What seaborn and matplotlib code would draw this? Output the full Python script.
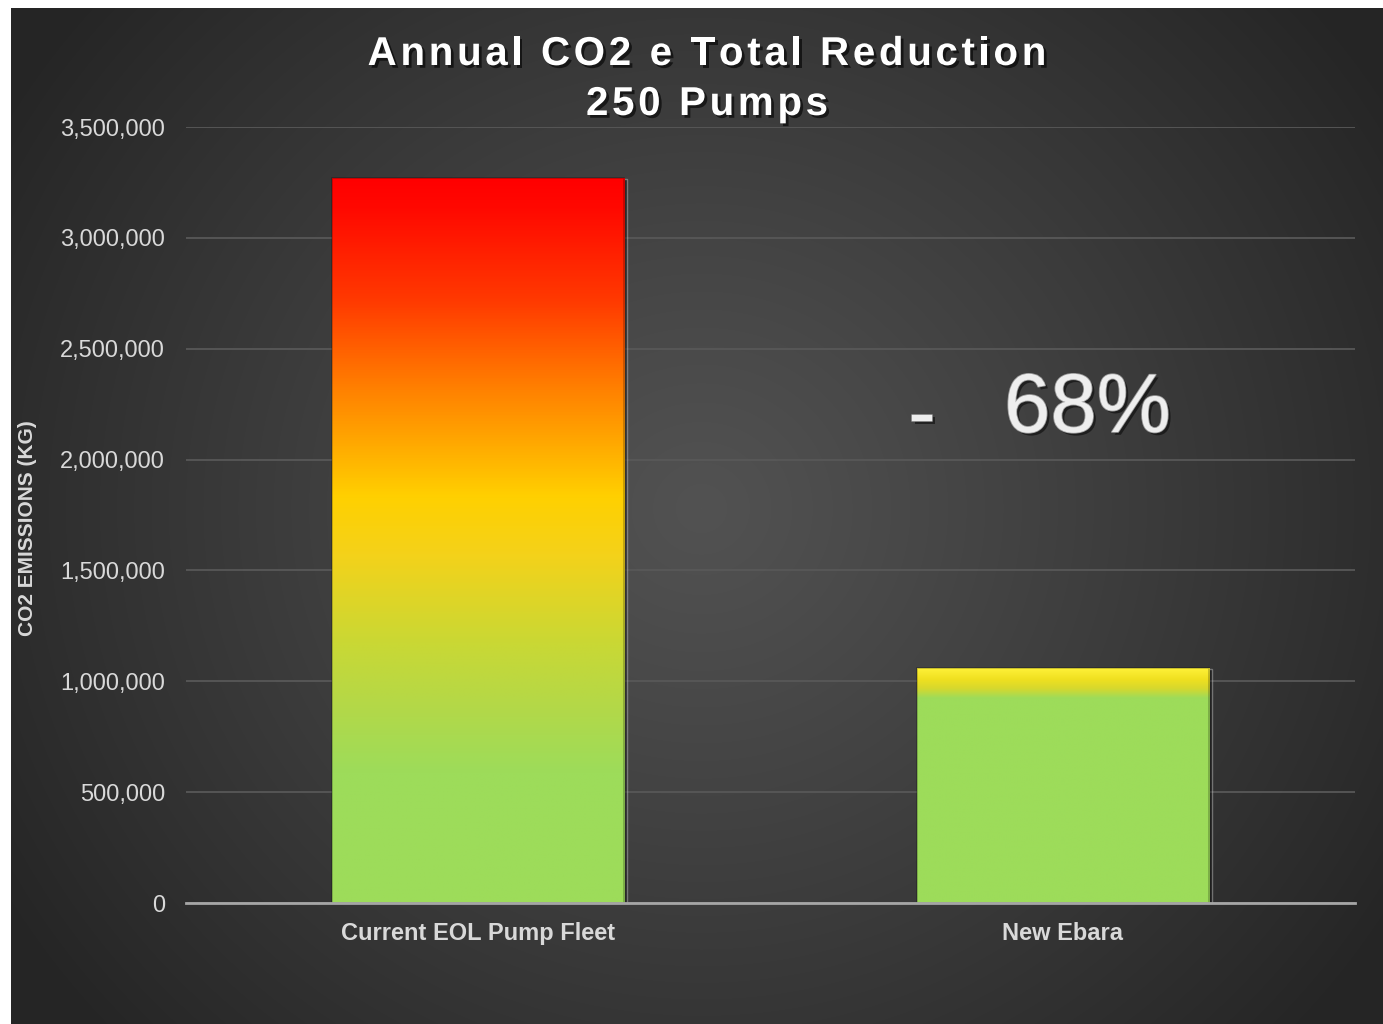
import numpy as np
import matplotlib
matplotlib.use("Agg")
import matplotlib.pyplot as plt
import seaborn as sns
from matplotlib.colors import LinearSegmentedColormap
from matplotlib import patheffects as pe
from matplotlib.patches import Rectangle
import matplotlib.transforms as mtransforms

# ---- data ----
categories = ["Current EOL Pump Fleet", "New Ebara"]
emissions = [3270000, 1060000]
yticks = [0, 500000, 1000000, 1500000, 2000000, 2500000, 3000000, 3500000]
title_line1 = "Annual CO2 e Total Reduction"
title_line2 = "250 Pumps"
ylabel = "CO2 EMISSIONS (KG)"
reduction_sign = "-"
reduction_text = "68%"

# gradient stops (fraction from bar top, colour)
bar_stops = [
    [(0.0, "#ff0000"), (0.04, "#ff0800"), (0.17, "#ff3a00"), (0.29, "#ff8000"),
     (0.44, "#ffd000"), (0.52, "#f4d21a"), (0.64, "#cad834"), (0.72, "#b6d846"),
     (0.82, "#9ddc5a"), (1.0, "#9ddc5a")],
    [(0.0, "#fff23a"), (0.05, "#f0e020"), (0.09, "#d6d82e"), (0.13, "#9ddc5a"), (1.0, "#9ddc5a")],
]

sns.set_theme(style="dark")
plt.rcParams["font.family"] = ["Liberation Sans", "DejaVu Sans"]

W, H = 1383, 1024
fig = plt.figure(figsize=(W / 100, H / 100), dpi=100)
fig.patch.set_facecolor("white")

# ---- radial dark background ----
bg = fig.add_axes([11 / W, 0, 1 - 11 / W, 1016 / H], zorder=-10)
bw, bh = W - 11, 1016
yy, xx = np.mgrid[0:bh, 0:bw]
cx, cy = 690, 500
r = np.sqrt((xx - cx) ** 2 + ((yy - cy) * 1.05) ** 2) / 820.0
r = np.clip(r, 0, 1)
c_in = np.array([0x52, 0x52, 0x52]) / 255
c_out = np.array([0x25, 0x25, 0x25]) / 255
t = r ** 1.1
img = c_in[None, None, :] * (1 - t[..., None]) + c_out[None, None, :] * t[..., None]
bg.imshow(img, aspect="auto", extent=(0, 1, 0, 1), origin="upper")
bg.set_axis_off()

# ---- main axes ----
ax = fig.add_axes([186 / W, 1 - 903 / H, (1355 - 186) / W, (903 - 127) / H])
ax.set_facecolor("none")
sns.barplot(x=categories, y=emissions, ax=ax, width=0.5, color="#9ddc5a",
            saturation=1, edgecolor="none", zorder=3)
ax.set_xlim(-0.5, 1.5)
ax.set_ylim(0, 3500000)
ax.set_yticks(yticks)
ax.set_yticklabels([f"{v:,}" for v in yticks])
ax.set_axisbelow(True)
ax.grid(False)
ax.yaxis.grid(True, color="#585858", linewidth=1.3)
ax.xaxis.grid(False)
for s in ["top", "right", "left"]:
    ax.spines[s].set_visible(False)
ax.spines["bottom"].set_color("#a6a6a6")
ax.spines["bottom"].set_linewidth(2.0)
ax.spines["bottom"].set_zorder(5)
ax.tick_params(axis="y", length=0, pad=15, labelsize=17, labelcolor="#d9d9d9")
ax.tick_params(axis="x", length=0, pad=13.5, labelsize=17, labelcolor="#d9d9d9")
for lbl in ax.get_xticklabels():
    lbl.set_fontweight("bold")
ax.set_xlabel("")
ax.set_ylabel(ylabel, fontsize=15, fontweight="bold", color="#d9d9d9")
ax.yaxis.set_label_coords((37 - 186) / (1355 - 186), (903 - 528) / (903 - 127))

# gradient fills clipped to bars
for patch, stops in zip(ax.patches, bar_stops):
    x0, y0 = patch.get_x(), patch.get_y()
    w, h = patch.get_width(), patch.get_height()
    shadow = Rectangle((x0, y0), w, h, facecolor="black", alpha=0.35, zorder=2,
                       transform=ax.transData + mtransforms.ScaledTranslation(3 / 100, -1 / 100, fig.dpi_scale_trans))
    ax.add_patch(shadow)
    cmap = LinearSegmentedColormap.from_list("g", [(1 - p, c) for p, c in stops[::-1]])
    grad = np.linspace(0, 1, 512).reshape(-1, 1)
    im = ax.imshow(grad, cmap=cmap, aspect="auto", origin="lower",
                   extent=(x0, x0 + w, y0, y0 + h), zorder=3.5, interpolation="bilinear")
    im.set_clip_path(patch)
    ax.add_patch(Rectangle((x0, y0), w, h, facecolor="none", edgecolor=(0, 0, 0, 0.25),
                           linewidth=1.2, zorder=4))
ax.set_xlim(-0.5, 1.5)
ax.set_ylim(0, 3500000)
ax.set_aspect("auto")

# ---- reduction annotation ----
shadow_fx = [pe.withSimplePatchShadow(offset=(2, -2), shadow_rgbFace="black", alpha=0.5),
             pe.withStroke(linewidth=1.2, foreground="#9a9a9a")]
ax.text((922 - 186) / 1169, (903 - 418) / 776, reduction_sign, transform=ax.transAxes,
        fontsize=60, color="#eeeeee", ha="center", va="center", path_effects=shadow_fx, zorder=6)
ax.text((1004 - 186) / 1169, (903 - 410) / 776, reduction_text, transform=ax.transAxes,
        fontsize=60, color="#eeeeee", ha="left", va="center", path_effects=shadow_fx, zorder=6)

# ---- title with letter spacing ----
renderer = fig.canvas.get_renderer()
title_kw = dict(fontsize=29, fontweight="bold", color="white")
title_fx = [pe.withSimplePatchShadow(offset=(2, -2), shadow_rgbFace="black", alpha=0.6)]


def char_width(ch):
    t1 = fig.text(0, 0, "|" + ch + "|", **title_kw)
    t2 = fig.text(0, 0, "||", **title_kw)
    w = t1.get_window_extent(renderer).width - t2.get_window_extent(renderer).width
    t1.remove()
    t2.remove()
    return w


def spaced_title(s, xc_px, yc_px, spacing):
    widths = [char_width(c) for c in s]
    total = sum(widths) + spacing * (len(s) - 1)
    x = xc_px - total / 2
    for c, w in zip(s, widths):
        fig.text(x / W, 1 - yc_px / H, c, ha="left", va="center", path_effects=title_fx, **title_kw)
        x += w + spacing


spaced_title(title_line1, 707, 54, 3.7)
spaced_title(title_line2, 707, 104, 3.7)

fig.savefig("out.png", dpi=100, facecolor=fig.get_facecolor())
